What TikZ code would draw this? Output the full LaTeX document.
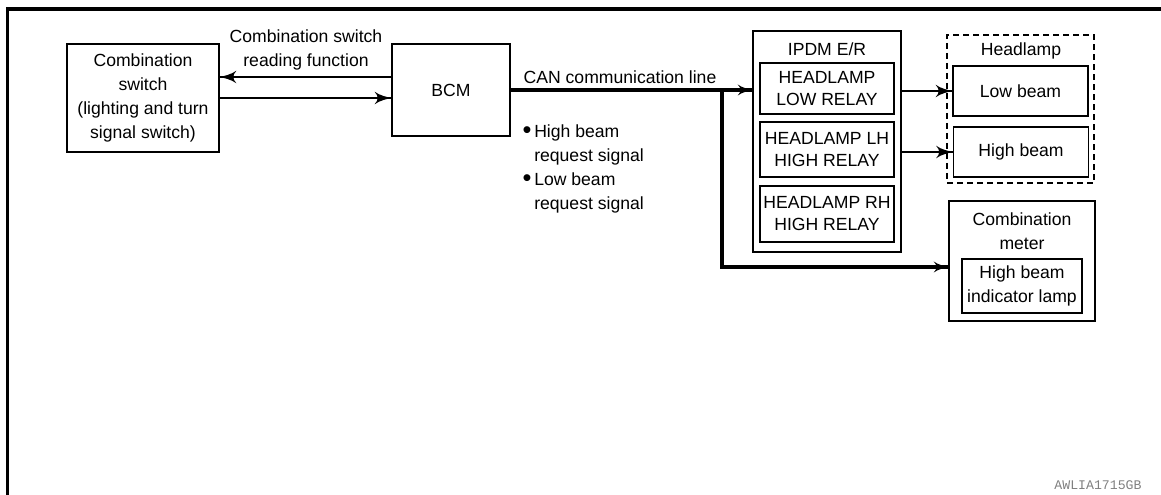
\documentclass[tikz,border=0pt]{standalone}
\usepackage{fontspec}
\setmainfont{Liberation Sans}
\newfontfamily\stampfont{Liberation Mono}
\usepackage{tikz}
\usetikzlibrary{arrows}
\usetikzlibrary{decorations.markings}
\tikzset{->/.style = {decoration={markings,
                                  mark=at position 1 with {\arrow[scale=2.3]{latex'}}},
                      postaction={decorate}}}
\tikzset{canline/.style = {line width=2.4pt,
                           decoration={markings,
                                       mark=at position 1 with {\arrow[scale=1.1]{latex'}}},
                           postaction={decorate}}}
\tikzset{block/.style = {draw, line width=0.9pt, align=center, inner sep=0pt},
         lbl/.style = {align=center, inner sep=0pt},
         relay/.style = {block, minimum width=100.5pt, font=\fontsize{13.2}{16.5}\selectfont}}
\newcommand{\bigdot}{\llap{\raisebox{-0.5pt}{\fontsize{19}{19}\selectfont\textbullet}\hspace{2pt}}}

\begin{document}
\begin{tikzpicture}[x=0.75pt, y=-0.75pt, font=\fontsize{13.2}{18}\selectfont]
      \useasboundingbox (0, 0) rectangle (1161, 495);
      \draw [line width=2.6pt] (7.5, 495) -- (7.5, 9) -- (1161, 9);
      \node [block, minimum width=114pt, minimum height=81pt] (cs) at (143, 98) {Combination\\switch\\(lighting and turn\\signal switch)};
      \node [block, minimum width=88.5pt, minimum height=69pt] (bcm) at (451, 90) {BCM};
      \node [block, minimum width=111pt, minimum height=165.75pt] (ipdm) at (827, 141.5) {};
      \node [lbl] (ipdmname) at (827, 49) {IPDM E/R};
      \node [relay, minimum height=38.25pt] (lowrelay) at (827, 88.5) {HEADLAMP\\LOW RELAY};
      \node [relay, minimum height=41.25pt] (lhrelay) at (827, 149.5) {HEADLAMP LH\\HIGH RELAY};
      \node [relay, minimum height=42pt] (rhrelay) at (827, 214) {HEADLAMP RH\\HIGH RELAY};
      \node [draw, line width=0.9pt, dash pattern=on 4.5pt off 3pt, minimum width=110.25pt, minimum height=111pt] (lamp) at (1020.5, 109) {};
      \node [lbl] (lampname) at (1021, 51) {Headlamp};
      \node [block, minimum width=101.25pt, minimum height=37.5pt] (lowbeam) at (1020.5, 91) {Low beam};
      \node [block, minimum width=101.25pt, minimum height=37.5pt] (highbeam) at (1021, 152) {High beam};
      \node [block, minimum width=109.5pt, minimum height=90pt] (meter) at (1022, 261) {};
      \node [lbl] (metername) at (1022, 231) {Combination\\meter};
      \node [block, minimum width=90pt, minimum height=40.5pt] (lampind) at (1022, 286) {High beam\\indicator lamp};
      \node [lbl] (readlbl) at (306, 50) {Combination switch\\reading function};
      \node [lbl] (canlbl) at (620, 77) {CAN communication line};
      \node [lbl, align=left, anchor=west] (reqlbl) at (534, 169) {\bigdot High beam\\request signal\\\bigdot Low beam\\request signal};
      \node [lbl, font=\stampfont\fontsize{9.9}{12}\selectfont, text=gray] (stamp) at (1098, 485) {AWLIA1715GB};
      \coordinate (split) at (722, 90);
      \draw [line width=0.9pt, ->] (bcm.west |- 0, 77) -- (cs.east |- 0, 77);
      \draw [line width=0.9pt, ->] (cs.east |- 0, 98) -- (bcm.west |- 0, 98);
      \draw [canline] (bcm.east) -- (bcm.east -| ipdm.west);
      \draw [canline] (split) -- (split |- 0, 267) -- (meter.west |- 0, 267);
      \draw [line width=0.9pt, ->] (lowbeam.west -| ipdm.east) -- (lowbeam.west);
      \draw [line width=0.9pt, ->] (highbeam.west -| ipdm.east) -- (highbeam.west);
    \end{tikzpicture}
\end{document}
